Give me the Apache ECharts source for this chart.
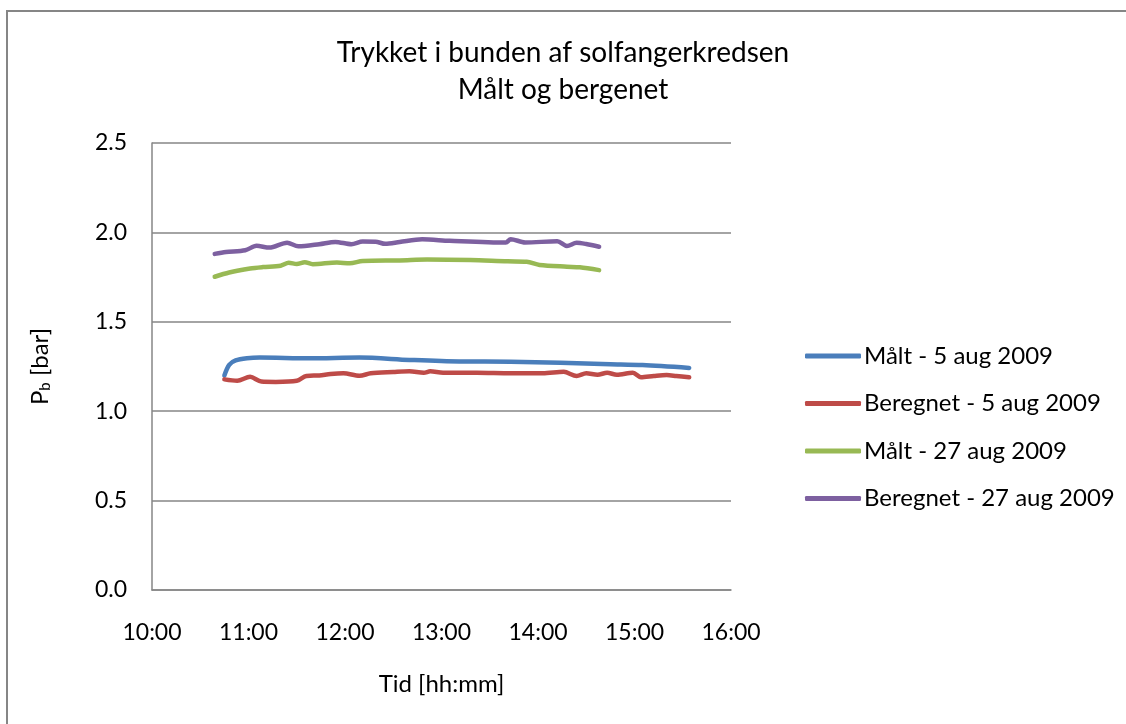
<!DOCTYPE html>
<html>
<head>
<meta charset="utf-8">
<script src="https://cdn.jsdelivr.net/npm/echarts@6/dist/echarts.min.js"></script>
<style>
html,body{margin:0;padding:0;background:#fff;}
#chart{width:1126px;height:724px;}
</style>
</head>
<body>
<div id="chart"></div>
<script>
// ---- data ----
const titleLines = ['Trykket i bunden af solfangerkredsen', 'Målt og bergenet'];
const xTickLabels = ['10:00','11:00','12:00','13:00','14:00','15:00','16:00'];
const yTickLabels = ['0.0','0.5','1.0','1.5','2.0','2.5'];
const seriesNames = ['Målt - 5 aug 2009','Beregnet - 5 aug 2009','Målt - 27 aug 2009','Beregnet - 27 aug 2009'];

const maalt5Times = ['10:45','10:48','10:52','10:59','11:07','11:38','12:09','12:40','13:11','13:43','14:14','14:45','15:05','15:34'];
const maalt5Values = [1.20,1.259,1.284,1.296,1.300,1.296,1.300,1.287,1.278,1.277,1.271,1.263,1.258,1.242];

const beregnet5Times = ['10:45','10:53','11:01','11:08','11:17','11:30','11:36','11:44','11:51','11:59','12:09','12:16','12:30','12:40','12:49','12:53','13:01','13:22','13:43','14:03','14:16','14:24','14:30','14:37','14:43','14:49','14:59','15:04','15:12','15:20','15:26','15:34'];
const beregnet5Values = [1.178,1.170,1.192,1.166,1.164,1.170,1.197,1.200,1.208,1.212,1.198,1.212,1.219,1.223,1.215,1.223,1.215,1.215,1.212,1.212,1.220,1.197,1.212,1.204,1.215,1.204,1.215,1.190,1.197,1.202,1.197,1.190];

const maalt27Times = ['10:39','10:48','11:01','11:09','11:20','11:25','11:30','11:35','11:40','11:55','12:03','12:11','12:34','12:51','13:18','13:41','13:53','14:01','14:18','14:26','14:38'];
const maalt27Values = [1.752,1.776,1.798,1.806,1.814,1.830,1.823,1.833,1.822,1.832,1.827,1.840,1.843,1.848,1.845,1.838,1.836,1.818,1.808,1.805,1.789];

const beregnet27Times = ['10:39','10:46','10:58','11:05','11:13','11:24','11:31','11:44','11:54','12:04','12:11','12:19','12:25','12:34','12:48','13:05','13:40','13:43','13:52','14:12','14:18','14:24','14:30','14:38'];
const beregnet27Values = [1.880,1.890,1.900,1.925,1.915,1.942,1.922,1.934,1.947,1.934,1.949,1.948,1.936,1.946,1.961,1.953,1.943,1.962,1.944,1.950,1.924,1.942,1.935,1.920];

const colors = ['#4A7EBB','#BE4B48','#98B954','#7D60A0'];

// ---- helpers ----
function toMin(t){ const p = t.split(':'); return (+p[0])*60 + (+p[1]); }
function pairs(times, vals){ return times.map((t,i)=>[toMin(t), vals[i]]); }
const xMin = toMin(xTickLabels[0]);
const xMax = toMin(xTickLabels[xTickLabels.length-1]);

const FONT = 'Lato, "Open Sans", sans-serif';
const chart = echarts.init(document.getElementById('chart'));

const seriesData = [
  pairs(maalt5Times, maalt5Values),
  pairs(beregnet5Times, beregnet5Values),
  pairs(maalt27Times, maalt27Values),
  pairs(beregnet27Times, beregnet27Values)
];

chart.setOption({
  animation: false,
  backgroundColor: '#fff',
  color: colors,
  textStyle: { fontFamily: FONT, color: '#000' },
  title: {
    text: titleLines.join('\n'),
    left: 'center',
    top: 29,
    textStyle: { fontFamily: FONT, fontSize: 28, fontWeight: 'normal', color: '#000', lineHeight: 37 }
  },
  graphic: [{
    type: 'rect', silent: true,
    shape: { x: 7, y: 11, width: 1140, height: 730 },
    style: { fill: 'none', stroke: '#868686', lineWidth: 2 }
  }],
  legend: {
    orient: 'vertical',
    left: 800,
    top: 339,
    itemWidth: 56,
    itemHeight: 5,
    itemGap: 23.5,
    icon: 'roundRect',
    data: seriesNames,
    textStyle: { fontFamily: FONT, fontSize: 24, color: '#000', lineHeight: 24, padding: [0,0,0,-2] }
  },
  grid: { left: 152, right: 395, top: 143, bottom: 134, containLabel: false },
  xAxis: {
    type: 'value',
    min: xMin, max: xMax, interval: 60,
    name: 'Tid [hh:mm]',
    nameLocation: 'middle',
    nameGap: 82,
    nameTextStyle: { fontFamily: FONT, fontSize: 24, color: '#000' },
    axisLine: { show: true, lineStyle: { color: '#868686', width: 1.5 } },
    axisTick: { show: false },
    splitLine: { show: false },
    axisLabel: {
      margin: 31, fontFamily: FONT, fontSize: 23, color: '#000',
      formatter: v => xTickLabels[Math.round((v - xMin)/60)]
    }
  },
  yAxis: {
    type: 'value',
    min: 0, max: 2.5, interval: 0.5,
    name: 'P{sub|b} [bar]',
    nameLocation: 'middle',
    nameGap: 99,
    nameTextStyle: {
      fontFamily: FONT, fontSize: 24, color: '#000',
      rich: { sub: { fontFamily: FONT, fontSize: 15, color: '#000', verticalAlign: 'bottom', padding: [10,0,0,0] } }
    },
    axisLine: { show: true, lineStyle: { color: '#868686', width: 1.5 } },
    axisTick: { show: false },
    splitLine: { show: true, lineStyle: { color: '#868686', width: 1.5 } },
    axisLabel: {
      margin: 25, fontFamily: FONT, fontSize: 23, color: '#000',
      formatter: v => yTickLabels[Math.round(v/0.5)]
    }
  },
  series: seriesNames.map((n,i)=>({
    name: n,
    type: 'line',
    data: seriesData[i],
    showSymbol: false,
    symbol: 'none',
    smooth: 0.3,
    lineStyle: { width: 4.5, color: colors[i], cap: 'round', join: 'round' },
    itemStyle: { color: colors[i] },
    emphasis: { disabled: true }
  }))
});
</script>
</body>
</html>
